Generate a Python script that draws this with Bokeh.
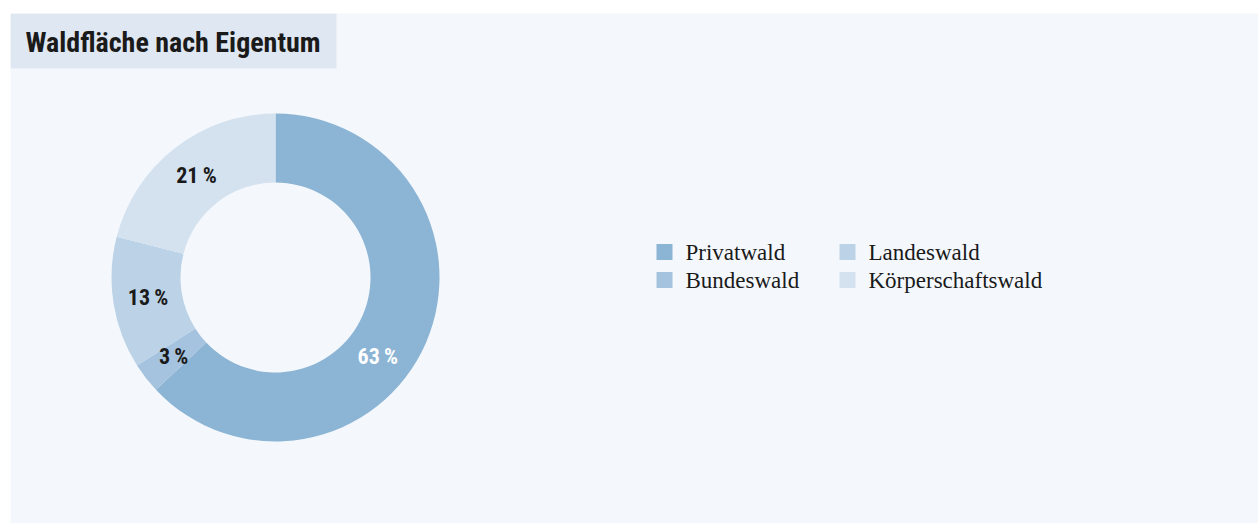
import math
from bokeh.plotting import figure
from bokeh.models import ColumnDataSource, Range1d
from bokeh.core.properties import value
from bokeh.embed import file_html
from bokeh.resources import INLINE

# ---- data ----
title_text = "Waldfläche nach Eigentum"
categories = ["Privatwald", "Bundeswald", "Landeswald", "Körperschaftswald"]
shares = [63, 3, 13, 21]
colors = ["#8cb4d4", "#a5c3df", "#bcd3e7", "#d4e1ef"]
label_colors = ["#ffffff", "#1a1a1a", "#1a1a1a", "#1a1a1a"]
legend_order = ["Privatwald", "Landeswald", "Bundeswald", "Körperschaftswald"]

PANEL = "#f4f8fc"
TITLE_BG = "#dfe7f2"
SANS = "'Liberation Sans Narrow', 'Roboto Condensed', 'DejaVu Sans Condensed', 'Liberation Sans'"
SERIF = "'Liberation Serif', 'DejaVu Serif'"

W, H = 1258, 523
BL, BT = 10, 13
PW, PH = W - BL, H - BT  # plot area

p = figure(width=W, height=H, output_backend="svg", toolbar_location=None,
           x_range=Range1d(0, PW), y_range=Range1d(0, PH),
           min_border_left=BL, min_border_right=0, min_border_top=BT, min_border_bottom=0)
p.axis.visible = False
p.grid.visible = False
p.outline_line_color = None
p.background_fill_color = PANEL
p.border_fill_color = "#ffffff"


def py(page_y):
    return H - page_y


def px(page_x):
    return page_x - BL


# title box
p.quad(left=[0], right=[px(336)], bottom=[py(68)], top=[PH], fill_color=TITLE_BG, line_color=None)
p.text(x=[px(25)], y=[py(42)], text=[title_text], text_font=value(SANS), text_font_style="bold",
       text_font_size="28px", text_color="#1a1a1a", text_baseline="middle", text_align="left")

# donut (clockwise from 12 o'clock)
cx, cy = px(275), py(277)
r_in, r_out = 95, 164
total = float(sum(shares))
starts, ends, mids = [], [], []
acc = 0.0
for s in shares:
    a0 = math.pi / 2 - 2 * math.pi * acc / total
    a1 = math.pi / 2 - 2 * math.pi * (acc + s) / total
    starts.append(a1)
    ends.append(a0)
    mids.append((a0 + a1) / 2)
    acc += s

src = ColumnDataSource(dict(x=[cx] * len(shares), y=[cy] * len(shares), start=starts, end=ends,
                            color=colors, cat=categories))
p.annular_wedge(x="x", y="y", inner_radius=r_in, outer_radius=r_out, start_angle="start",
                end_angle="end", fill_color="color", line_color=None, source=src,
                inner_radius_units="screen", outer_radius_units="screen")

# labels
label_angles = list(mids)
label_angles[0] = math.radians(-37.5)  # big slice label sits lower in the original
lr = 129
lx = [cx + lr * math.cos(a) for a in label_angles]
ly = [cy + lr * math.sin(a) for a in label_angles]
labels = [f"{s}\u2009%" for s in shares]
p.text(x=lx, y=ly, text=labels, text_font=value(SANS), text_font_style="bold",
       text_font_size="22px", text_color=label_colors, text_align="center", text_baseline="middle")

# legend (manual, 2 columns)
col_x = [px(656), px(839)]
row_y = [py(251.5), py(279.5)]
sq_x, sq_y, sq_c, tx, ty, tt = [], [], [], [], [], []
for i, name in enumerate(legend_order):
    r, c = divmod(i, 2)
    k = categories.index(name)
    sq_x.append(col_x[c] + 8)
    sq_y.append(row_y[r])
    sq_c.append(colors[k])
    tx.append(col_x[c] + 29)
    ty.append(row_y[r])
    tt.append(name)
p.rect(x=sq_x, y=sq_y, width=16, height=16, width_units="screen", height_units="screen",
       fill_color=sq_c, line_color=None)
p.text(x=tx, y=ty, text=tt, text_font=value(SERIF), text_font_size="23px",
       text_color="#1a1a1a", text_baseline="middle", text_align="left")

open("out.html", "w").write(file_html(p, INLINE))
